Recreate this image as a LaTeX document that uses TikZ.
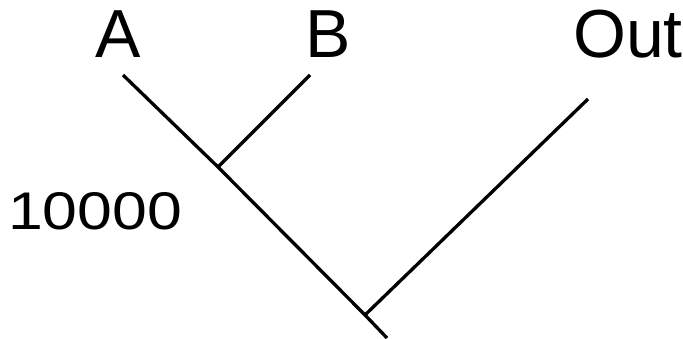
\documentclass[tikz,border=0pt]{standalone}
\usepackage{fontspec}
\setmainfont{Liberation Sans}
\begin{document}
\begin{tikzpicture}[x=1pt,y=-1pt,
 lbl/.style={font=\fontsize{68}{68}\selectfont,inner sep=0pt,anchor=base},
 num/.style={font=\fontsize{53}{53}\selectfont,inner sep=0pt,anchor=base,xscale=1.18,transform shape},
 br/.style={line width=3.3pt}
]
\useasboundingbox (0,0) rectangle (683,339);
\node[lbl] (A) at (118,58) {A};
\node[lbl] (B) at (328,58) {B};
\node[lbl] (out) at (628,58) {Out};
\node[num] (len) at (95,230) {10000};

\coordinate (tipA) at (123,75);
\coordinate (tipB) at (310,75);
\coordinate (tipO) at (588,99);
\coordinate (jAB) at (218,167);
\coordinate (root) at (365,315);
\coordinate (stem) at (387,338);

\draw[br] (tipA) -- (jAB) -- (root) -- (stem);
\draw[br] (tipB) -- (jAB);
\draw[br] (tipO) -- (root);
\end{tikzpicture}
\end{document}
